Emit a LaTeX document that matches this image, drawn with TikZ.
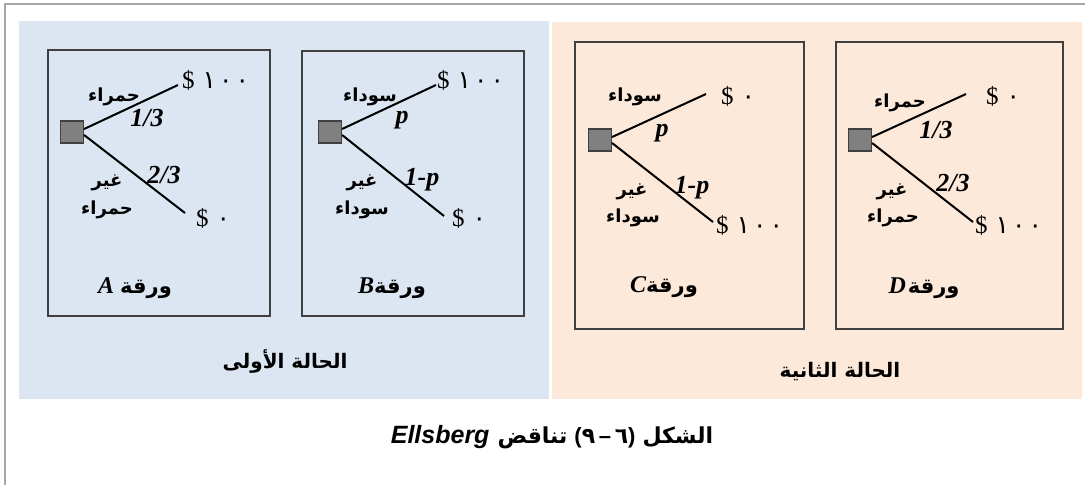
\documentclass[tikz,border=0pt]{standalone}
\usepackage{fontspec}
\TeXXeTstate=1
\newfontfamily\arfont[Script=Arabic]{DejaVu Sans}
\newfontfamily\digfont{DejaVu Sans}
\newfontfamily\serfont{Liberation Serif}
\newfontfamily\lsansfont{Liberation Sans}
\definecolor{bluebg}{HTML}{DCE6F2}
\definecolor{peachbg}{HTML}{FDE9D9}
\definecolor{boxc}{HTML}{404040}
\definecolor{framec}{HTML}{A6A6A6}
\definecolor{sqfill}{HTML}{808080}
\newcommand\hund{{\digfont ١\hspace{3pt}٠\hspace{3pt}٠}}
\newcommand\zer{{\digfont ٠}}
\begin{document}
\begin{tikzpicture}[x=1pt,y=-1pt,
  panelbox/.style={draw=boxc,line width=1.5pt},
  decision/.style={draw=boxc,fill=sqfill,line width=1.2pt,minimum width=23pt,minimum height=22pt,inner sep=0pt},
  branch/.style={line width=2pt},
  arlab/.style={inner sep=0pt,font=\arfont\bfseries\fontsize{18}{20}\selectfont},
  prob/.style={inner sep=0pt,font=\serfont\bfseries\itshape\fontsize{26}{28}\selectfont},
  payoff/.style={anchor=west,inner sep=0pt,font=\serfont\fontsize{25}{27}\selectfont},
  ticket/.style={inner sep=0pt,font=\arfont\bfseries\fontsize{21}{24}\selectfont},
  casetitle/.style={inner sep=0pt,font=\arfont\bfseries\fontsize{20}{24}\selectfont},
]
\useasboundingbox (0,0) rectangle (1085,485);
\fill[white] (0,0) rectangle (1085,485);
\fill[bluebg] (19,21) rectangle (549,399);
\fill[peachbg] (552,22) rectangle (1082,399);
\draw[framec,line width=2pt] (5,485) -- (5,4) -- (1085,4);
% panels
\draw[panelbox] (48,50) rectangle (270,316);
\draw[panelbox] (302,51) rectangle (524,316);
\draw[panelbox] (575,42) rectangle (804,329);
\draw[panelbox] (836,42) rectangle (1063,329);
% ---- tree A
\node[decision] (sqA) at (72,132) {};
\coordinate (aU) at (178,85);
\coordinate (aL) at (185,213);
\draw[branch] ([yshift=3pt]sqA.east) -- (aU);
\draw[branch] ([yshift=-3pt]sqA.east) -- (aL);
\node[payoff] (paU) at (182,80) {\$\hspace{8pt}\hund};
\node[payoff] (paL) at (196,218) {\$\hspace{8pt}\zer};
\node[arlab] (lAu) at (114,97) {\beginR حمراء\endR};
\node[prob] (pAu) at (147,118) {1/3};
\node[prob] (pAl) at (164,175) {2/3};
\node[arlab] (lAl1) at (107,183) {\beginR غير\endR};
\node[arlab] (lAl2) at (107,210) {\beginR حمراء\endR};
\node[ticket] (tA) at (135,288) {{\serfont\itshape\fontsize{24}{26}\selectfont A}\hspace{6pt}\beginR ورقة\endR};
% ---- tree B
\node[decision] (sqB) at (330,132) {};
\coordinate (bU) at (436,85);
\coordinate (bL) at (444,216);
\draw[branch] ([yshift=3pt]sqB.east) -- (bU);
\draw[branch] ([yshift=-3pt]sqB.east) -- (bL);
\node[payoff] (pbU) at (437,80) {\$\hspace{8pt}\hund};
\node[payoff] (pbL) at (452,218) {\$\hspace{8pt}\zer};
\node[arlab] (lBu) at (370,97) {\beginR سوداء\endR};
\node[prob] (pBu) at (402,120) {p};
\node[prob] (pBl) at (422,180) {1-p};
\node[arlab] (lBl1) at (362,183) {\beginR غير\endR};
\node[arlab] (lBl2) at (362,210) {\beginR سوداء\endR};
\node[ticket] (tB) at (392,288) {{\serfont\itshape\fontsize{24}{26}\selectfont B}\beginR ورقة\endR};
% ---- tree C
\node[decision] (sqC) at (600,140) {};
\coordinate (cU) at (706,94);
\coordinate (cL) at (713,222);
\draw[branch] ([yshift=3pt]sqC.east) -- (cU);
\draw[branch] ([yshift=-3pt]sqC.east) -- (cL);
\node[payoff] (pcU) at (721,96) {\$\hspace{8pt}\zer};
\node[payoff] (pcL) at (716,225) {\$\hspace{8pt}\hund};
\node[arlab] (lCu) at (635,97) {\beginR سوداء\endR};
\node[prob] (pCu) at (662,133) {p};
\node[prob] (pCl) at (692,188) {1-p};
\node[arlab] (lCl1) at (632,192) {\beginR غير\endR};
\node[arlab] (lCl2) at (633,218) {\beginR سوداء\endR};
\node[ticket] (tC) at (664,287) {{\serfont\itshape\fontsize{24}{26}\selectfont C}\beginR ورقة\endR};
% ---- tree D
\node[decision] (sqD) at (860,140) {};
\coordinate (dU) at (966,94);
\coordinate (dL) at (973,222);
\draw[branch] ([yshift=3pt]sqD.east) -- (dU);
\draw[branch] ([yshift=-3pt]sqD.east) -- (dL);
\node[payoff] (pdU) at (986,96) {\$\hspace{8pt}\zer};
\node[payoff] (pdL) at (975,225) {\$\hspace{8pt}\hund};
\node[arlab] (lDu) at (900,103) {\beginR حمراء\endR};
\node[prob] (pDu) at (936,130) {1/3};
\node[prob] (pDl) at (953,183) {2/3};
\node[arlab] (lDl1) at (892,192) {\beginR غير\endR};
\node[arlab] (lDl2) at (893,218) {\beginR حمراء\endR};
\node[ticket] (tD) at (924,288) {{\serfont\itshape\fontsize{24}{26}\selectfont D}\hspace{2pt}\beginR ورقة\endR};
% ---- case titles
\node[casetitle] (t1) at (285,361) {\beginR الحالة الأولى\endR};
\node[casetitle] (t2) at (840,372) {\beginR الحالة الثانية\endR};
% ---- caption
\node[inner sep=0pt] (cap) at (552,437) {{\lsansfont\bfseries\itshape\fontsize{25}{28}\selectfont Ellsberg}\hspace{8pt}{\arfont\bfseries\fontsize{22}{25}\selectfont\beginR تناقض\endR\hspace{7pt}{\lsansfont (}٩{\lsansfont\,–\,}٦{\lsansfont )}\hspace{7pt}\beginR الشكل\endR}};
\end{tikzpicture}
\end{document}
